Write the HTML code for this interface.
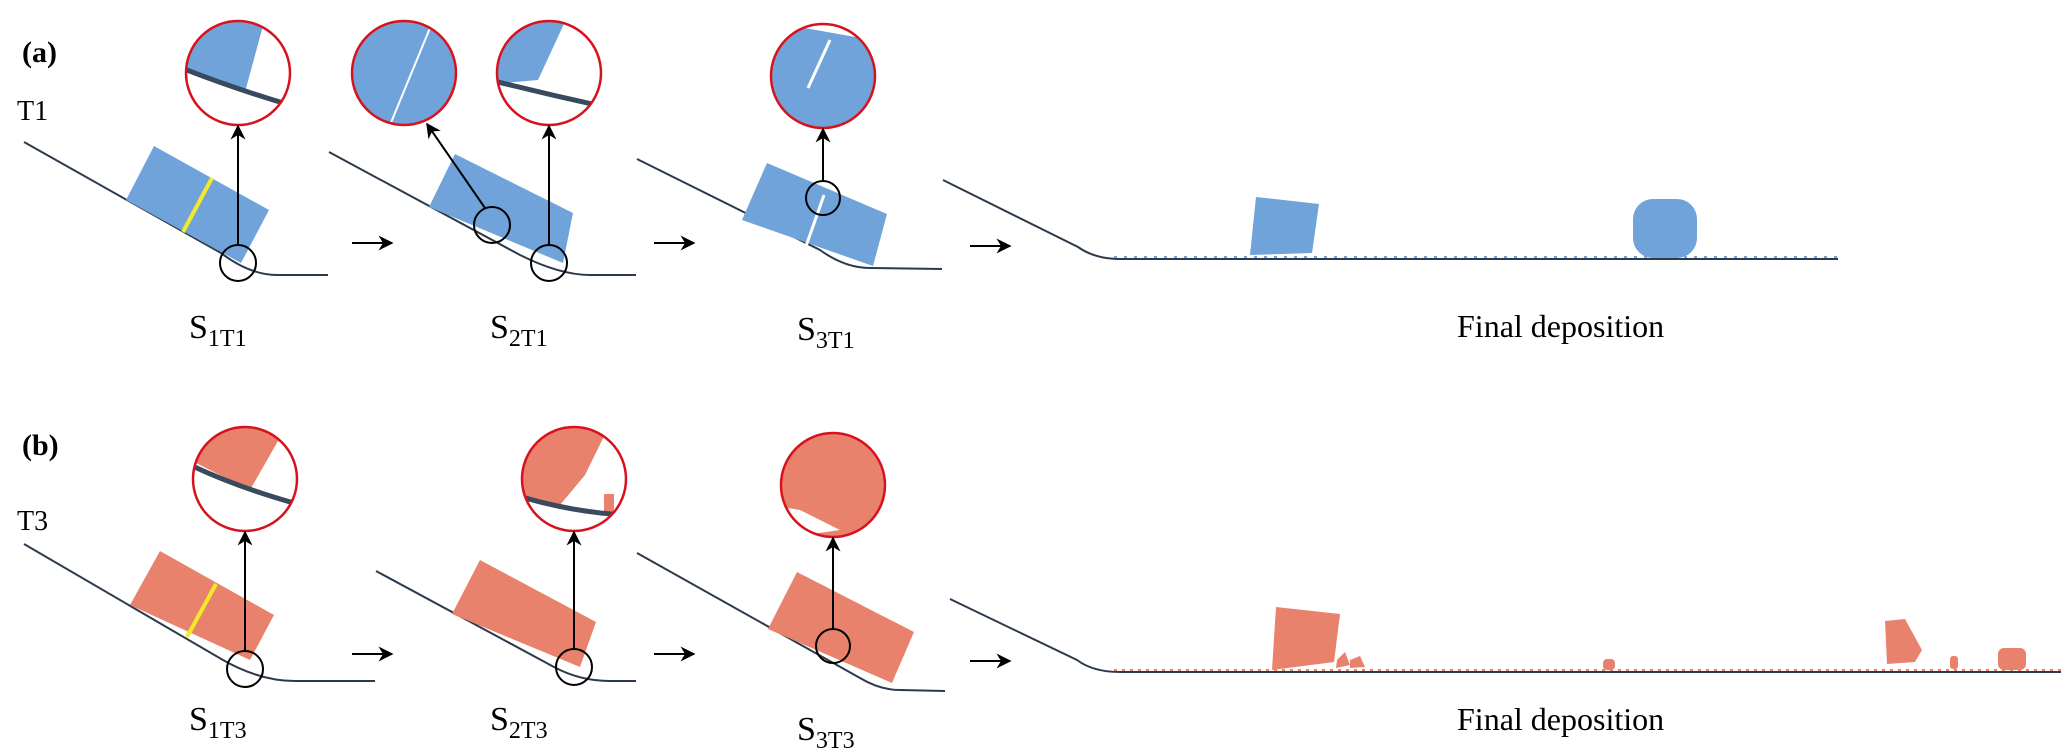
<!DOCTYPE html>
<html><head><meta charset="utf-8"><style>
html,body{margin:0;padding:0;background:#fff}
svg{display:block}
text{font-family:"Liberation Serif",serif;fill:#000}
</style></head><body>
<svg width="2067" height="754" viewBox="0 0 2067 754" xmlns="http://www.w3.org/2000/svg">
<defs>
<marker id="ah" viewBox="0 0 10 10" refX="9" refY="5" markerWidth="7.5" markerHeight="7.5" orient="auto-start-reverse"><path d="M0,0 L10,5 L0,10 L3,5 z" fill="#000"/></marker>
<clipPath id="c1"><circle cx="238" cy="73" r="51"/></clipPath>
<clipPath id="c2"><circle cx="404" cy="73" r="51"/></clipPath>
<clipPath id="c3"><circle cx="549" cy="73" r="51"/></clipPath>
<clipPath id="c4"><circle cx="823" cy="76" r="51"/></clipPath>
<clipPath id="c5"><circle cx="245" cy="479" r="51"/></clipPath>
<clipPath id="c6"><circle cx="574" cy="479" r="51"/></clipPath>
<clipPath id="c7"><circle cx="833" cy="485" r="51"/></clipPath>
</defs>
<g fill="none" stroke="#2c3a4c" stroke-width="2">
<path d="M24,142 L221,253 Q250,275 277,275 L328,275"/>
<path d="M329,152 L520,255 Q560,275 590,275 L636,275"/>
<path d="M637,159 L820,250 Q845,268 870,268 L942,269"/>
<path d="M943,180 L1078,247 Q1095,259 1120,259 L1838,259"/>
<path d="M24,544 L223,660 Q260,681 295,681 L375,681"/>
<path d="M376,571 L554,667 Q580,681 610,681 L636,681"/>
<path d="M637,553 L860,678 Q880,690 900,690 L945,691"/>
<path d="M950,599 L1077,660 Q1093,672 1120,672 L2061,672"/>
</g>
<!-- blocks a -->
<g fill="#6fa3da">
<polygon points="154,146 269,210 241,263 126,200"/>
<polygon points="455,154 573,213 563,263 429,207"/>
<polygon points="767,163 887,214 873,266 742,220"/>
<polygon points="1256,197 1319,204 1312,253 1250,255"/>
<rect x="1633" y="199" width="64" height="59" rx="20"/>
</g>
<path d="M824,195 L805,249" stroke="#fff" stroke-width="3"/>
<line x1="212" y1="178" x2="183" y2="232" stroke="#f2e92a" stroke-width="4"/>
<!-- blocks b -->
<g fill="#e8826c">
<polygon points="160,551 274,615 250,660 130,605"/>
<polygon points="480,560 596,622 580,667 452,614"/>
<polygon points="797,572 914,632 892,683 768,629"/>
<polygon points="1276,607 1340,614 1334,662 1272,670"/>
<polygon points="1885,621 1905,619 1922,650 1915,662 1887,664"/>
<polygon points="1337,660 1345,652 1350,665 1336,668"/>
<polygon points="1350,660 1360,656 1365,667 1350,668"/>
<rect x="1603" y="659" width="12" height="11" rx="4"/>
<rect x="1950" y="656" width="8" height="13" rx="3"/>
<rect x="1998" y="648" width="28" height="22" rx="6"/>
</g>
<line x1="216" y1="584" x2="187" y2="637" stroke="#f2e92a" stroke-width="4"/>
<path d="M1114,670 L2061,670" stroke="#e8826c" stroke-width="2" stroke-dasharray="3 5"/>
<path d="M1114,257 L1838,257" stroke="#6fa3da" stroke-width="2" stroke-dasharray="3 7"/>
<!-- zoom circle contents -->
<g clip-path="url(#c1)"><polygon points="150,0 270,0 245,92 150,60" fill="#6fa3da"/><path d="M150,55 Q220,85 300,108" stroke="#3a4a5e" stroke-width="5" fill="none"/></g>
<g clip-path="url(#c2)"><rect x="340" y="10" width="130" height="130" fill="#6fa3da"/><path d="M430,28 L390,125" stroke="#fff" stroke-width="2"/></g>
<g clip-path="url(#c3)"><polygon points="480,0 575,0 538,80 480,85" fill="#6fa3da"/><path d="M490,80 Q550,95 610,108" stroke="#3a4a5e" stroke-width="5" fill="none"/></g>
<g clip-path="url(#c4)"><polygon points="760,20 900,45 900,140 760,140" fill="#6fa3da"/><path d="M830,40 L808,88" stroke="#fff" stroke-width="3"/></g>
<g clip-path="url(#c5)"><polygon points="180,420 290,420 250,490 180,455" fill="#e8826c"/><path d="M180,460 Q240,490 320,510" stroke="#3a4a5e" stroke-width="5" fill="none"/></g>
<g clip-path="url(#c6)"><polygon points="510,420 612,420 585,475 560,505 515,500" fill="#e8826c"/><rect x="604" y="494" width="10" height="20" fill="#e8826c"/><path d="M515,495 Q570,512 625,515" stroke="#3a4a5e" stroke-width="5" fill="none"/></g>
<g clip-path="url(#c7)"><rect x="770" y="420" width="130" height="130" fill="#e8826c"/><polygon points="770,505 800,510 840,530 770,540" fill="#fff"/></g>
<g fill="none" stroke="#d8121c" stroke-width="2.5">
<circle cx="238" cy="73" r="52"/><circle cx="404" cy="73" r="52"/><circle cx="549" cy="73" r="52"/><circle cx="823" cy="76" r="52"/>
<circle cx="245" cy="479" r="52"/><circle cx="574" cy="479" r="52"/><circle cx="833" cy="485" r="52"/>
</g>
<g fill="none" stroke="#000" stroke-width="2">
<circle cx="238" cy="263" r="18"/><circle cx="492" cy="225" r="18"/><circle cx="549" cy="263" r="18"/><circle cx="823" cy="198" r="17"/>
<circle cx="245" cy="669" r="18"/><circle cx="574" cy="667" r="18"/><circle cx="833" cy="646" r="17"/>
</g>
<g stroke="#000" stroke-width="2" marker-end="url(#ah)">
<line x1="238" y1="245" x2="238" y2="126"/>
<line x1="485" y1="208" x2="427" y2="124"/>
<line x1="549" y1="245" x2="549" y2="126"/>
<line x1="823" y1="181" x2="823" y2="129"/>
<line x1="245" y1="651" x2="245" y2="532"/>
<line x1="574" y1="649" x2="574" y2="532"/>
<line x1="833" y1="629" x2="833" y2="538"/>
<line x1="352" y1="243" x2="392" y2="243"/>
<line x1="654" y1="243" x2="694" y2="243"/>
<line x1="970" y1="246" x2="1010" y2="246"/>
<line x1="352" y1="654" x2="392" y2="654"/>
<line x1="654" y1="654" x2="694" y2="654"/>
<line x1="970" y1="661" x2="1010" y2="661"/>
</g>
<text x="22" y="62" font-size="30" font-weight="bold">(a)</text>
<text x="22" y="455" font-size="30" font-weight="bold">(b)</text>
<text x="17" y="120" font-size="28">T1</text>
<text x="17" y="530" font-size="28">T3</text>
<g font-size="34">
<text x="189" y="338">S<tspan font-size="24" dy="8">1T1</tspan></text>
<text x="490" y="338">S<tspan font-size="24" dy="8">2T1</tspan></text>
<text x="797" y="340">S<tspan font-size="24" dy="8">3T1</tspan></text>
<text x="189" y="730">S<tspan font-size="24" dy="8">1T3</tspan></text>
<text x="490" y="730">S<tspan font-size="24" dy="8">2T3</tspan></text>
<text x="797" y="740">S<tspan font-size="24" dy="8">3T3</tspan></text>
</g>
<text x="1457" y="337" font-size="32">Final deposition</text>
<text x="1457" y="730" font-size="32">Final deposition</text>
</svg>
</body></html>
